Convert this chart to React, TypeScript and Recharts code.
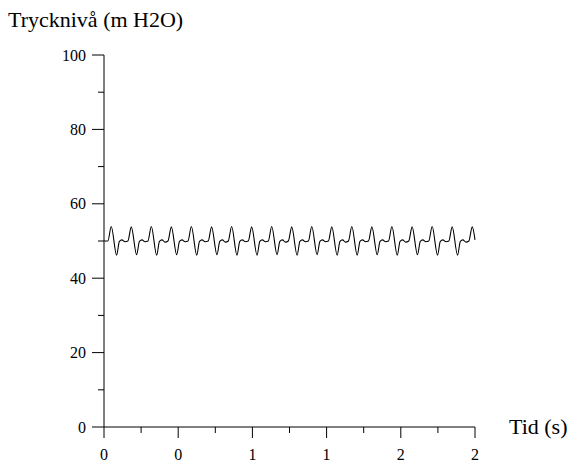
import { Line, LineChart, XAxis, YAxis } from "recharts";

// Tid (s)
const timeS = [
  0,
  0.021, 0.039, 0.068, 0.083, 0.097, 0.113,
  0.129, 0.147, 0.176, 0.191, 0.205, 0.221,
  0.237, 0.255, 0.284, 0.299, 0.313, 0.329,
  0.345, 0.363, 0.392, 0.407, 0.421, 0.437,
  0.453, 0.471, 0.5, 0.515, 0.529, 0.545,
  0.562, 0.58, 0.609, 0.624, 0.638, 0.654,
  0.67, 0.688, 0.717, 0.732, 0.746, 0.762,
  0.778, 0.796, 0.825, 0.84, 0.854, 0.87,
  0.886, 0.904, 0.933, 0.948, 0.962, 0.978,
  0.994, 1.012, 1.041, 1.056, 1.07, 1.086,
  1.102, 1.12, 1.149, 1.164, 1.178, 1.194,
  1.21, 1.228, 1.257, 1.272, 1.286, 1.302,
  1.318, 1.336, 1.365, 1.38, 1.394, 1.41,
  1.426, 1.444, 1.473, 1.488, 1.502, 1.518,
  1.534, 1.552, 1.581, 1.596, 1.61, 1.626,
  1.643, 1.661, 1.69, 1.705, 1.719, 1.735,
  1.751, 1.769, 1.798, 1.813, 1.827, 1.843,
  1.859, 1.877, 1.906, 1.921, 1.935, 1.951,
  1.967, 1.985, 2.0,
];

// Trycknivå (m H2O)
const pressure = [
  50.0,
  50.0, 53.9, 46.2, 49.9, 50.3, 49.8,
  50.0, 53.8, 46.3, 49.9, 50.3, 49.8,
  50.0, 53.9, 46.2, 49.9, 50.3, 49.7,
  50.0, 53.8, 46.3, 49.9, 50.3, 49.8,
  50.0, 53.9, 46.2, 49.9, 50.3, 49.8,
  50.0, 53.8, 46.3, 49.9, 50.3, 49.7,
  50.0, 53.9, 46.2, 49.9, 50.3, 49.8,
  50.0, 53.8, 46.2, 49.9, 50.3, 49.8,
  50.0, 53.9, 46.3, 49.9, 50.3, 49.7,
  50.0, 53.8, 46.2, 49.9, 50.3, 49.8,
  50.0, 53.9, 46.3, 49.9, 50.3, 49.8,
  50.0, 53.8, 46.2, 49.9, 50.3, 49.7,
  50.0, 53.9, 46.2, 49.9, 50.3, 49.8,
  50.0, 53.8, 46.3, 49.9, 50.3, 49.8,
  50.0, 53.9, 46.2, 49.9, 50.3, 49.7,
  50.0, 53.8, 46.3, 49.9, 50.3, 49.8,
  50.0, 53.9, 46.2, 49.9, 50.3, 49.8,
  50.0, 53.8, 46.2, 49.9, 50.3, 49.7,
  50.0, 53.8, 50.3,
];

const xTicks = [0, 0.2, 0.4, 0.6, 0.8, 1.0, 1.2, 1.4, 1.6, 1.8, 2.0];
const yTicks = [0, 10, 20, 30, 40, 50, 60, 70, 80, 90, 100];

const data = timeS.map((t, i) => ({ t, p: pressure[i] }));

const FONT = "'Liberation Serif', 'Times New Roman', serif";

function YTick({ x, y, payload }: any) {
  const major = payload.value % 20 === 0;
  return (
    <g>
      <line x1={x - (major ? 12 : 6)} y1={y} x2={x} y2={y} stroke="#000" />
      {major && (
        <text x={x - 18} y={y} dy="0.35em" textAnchor="end" fontSize={16} fontFamily={FONT} fill="#000">
          {payload.value}
        </text>
      )}
    </g>
  );
}

function XTick({ x, y, index, payload }: any) {
  const major = index % 2 === 0;
  return (
    <g>
      <line x1={x} y1={y} x2={x} y2={y + (major ? 11 : 6)} stroke="#000" />
      {major && (
        <text x={x} y={y + 33} textAnchor="middle" fontSize={16} fontFamily={FONT} fill="#000">
          {Math.round(payload.value)}
        </text>
      )}
    </g>
  );
}

export default function App() {
  return (
    <div style={{ position: "absolute", left: 0, top: 0, width: 569, height: 463, background: "#fff" }}>
      <LineChart
        width={569}
        height={463}
        data={data}
        margin={{ top: 55, right: 94, bottom: 35, left: 103 }}
      >
        <XAxis
          dataKey="t"
          type="number"
          domain={[0, 2]}
          ticks={xTicks}
          interval={0}
          height={1}
          tickSize={0}
          tickMargin={0}
          tickLine={false}
          axisLine={{ stroke: "#000" }}
          tick={<XTick />}
        />
        <YAxis
          type="number"
          domain={[0, 100]}
          ticks={yTicks}
          interval={0}
          width={1}
          tickSize={0}
          tickMargin={0}
          tickLine={false}
          axisLine={{ stroke: "#000" }}
          tick={<YTick />}
        />
        <Line
          type="monotone"
          dataKey="p"
          stroke="#000"
          strokeWidth={1.1}
          dot={false}
          isAnimationActive={false}
        />
      </LineChart>
      <div
        style={{
          position: "absolute",
          left: 8,
          top: 9,
          fontFamily: FONT,
          fontSize: 22,
          lineHeight: "22px",
          whiteSpace: "nowrap",
        }}
      >
        Trycknivå (m H2O)
      </div>
      <div
        style={{
          position: "absolute",
          left: 509,
          top: 416,
          fontFamily: FONT,
          fontSize: 22,
          lineHeight: "22px",
          whiteSpace: "nowrap",
        }}
      >
        Tid (s)
      </div>
    </div>
  );
}
